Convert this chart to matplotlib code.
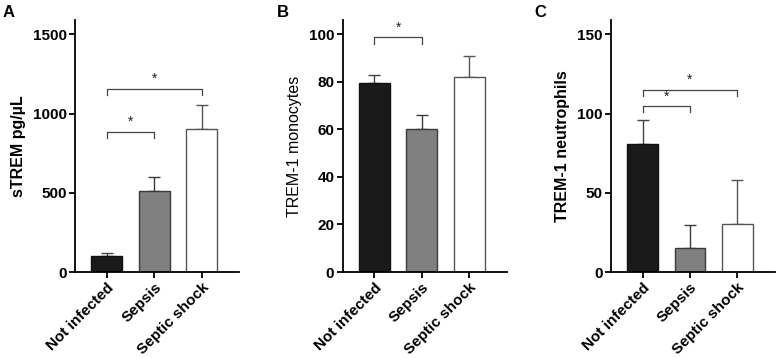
import matplotlib.pyplot as plt

plt.rcParams['font.family'] = ['Liberation Sans', 'DejaVu Sans']

groups = ['Not infected', 'Sepsis', 'Septic shock']
bar_colors = ['#1a1a1a', '#808080', '#ffffff']
edge_colors = ['#111111', '#3a3a3a', '#555555']

# panel A: soluble TREM-1
strem_mean = [100, 510, 905]
strem_err = [22, 90, 147]
# panel B: TREM-1 on monocytes
mono_mean = [79.3, 60.1, 81.9]
mono_err = [3.5, 6.0, 9.0]
# panel C: TREM-1 on neutrophils
neut_mean = [80.8, 14.9, 30.5]
neut_err = [15.3, 14.5, 27.8]

panels = [
    dict(letter='A', mean=strem_mean, err=strem_err, ylabel='sTREM pg/µL',
         ylim=1590, ticks=[0, 500, 1000, 1500], weight='bold',
         left=0.0965, right=0.3076, letter_x=0.003,
         brackets=[(0, 1, 884, 846, '*'), (0, 2, 1157, 1115, '*')]),
    dict(letter='B', mean=mono_mean, err=mono_err, ylabel='TREM-1 monocytes',
         ylim=105.9, ticks=[0, 20, 40, 60, 80, 100], weight='normal',
         left=0.441, right=0.652, letter_x=0.356,
         brackets=[(0, 1, 98.6, 95.8, '*')]),
    dict(letter='C', mean=neut_mean, err=neut_err, ylabel='TREM-1 neutrophils',
         ylim=159, ticks=[0, 50, 100, 150], weight='bold',
         left=0.786, right=0.9974, letter_x=0.688,
         brackets=[(0, 1, 104.5, 100.7, '*'), (0, 2, 115, 110.8, '*')]),
]

fig = plt.figure(figsize=(7.77, 3.58), dpi=100)
bottom, top = 0.2402, 0.944

for p in panels:
    ax = fig.add_axes([p['left'], bottom, p['right'] - p['left'], top - bottom])
    x = range(len(groups))
    for i in x:
        ax.bar(i, p['mean'][i], width=0.65, color=bar_colors[i],
               edgecolor=edge_colors[i], linewidth=1.0, zorder=2)
        ax.errorbar(i, p['mean'][i], yerr=[[0], [p['err'][i]]], fmt='none',
                    ecolor=edge_colors[i] if i != 0 else '#444444',
                    elinewidth=1.0, capsize=4, capthick=1.0, zorder=1)
    for a, b, yb, yt, s in p['brackets']:
        ax.plot([a, a, b, b], [yt, yb, yb, yt], color='#444444', lw=0.9,
                zorder=3, clip_on=False)
        ax.text((a + b) / 2, yb + (p['ylim'] * 0.012), s, ha='center',
                va='bottom', fontsize=10, color='#222222')
    ax.set_xlim(-0.67, 2.79)
    ax.set_ylim(0, p['ylim'])
    ax.set_yticks(p['ticks'])
    ax.set_xticks(list(x))
    ax.set_xticklabels(groups, rotation=45, ha='right', rotation_mode='anchor',
                       fontsize=11, fontweight='bold')
    for lab in ax.get_yticklabels():
        lab.set_fontsize(11)
        lab.set_fontweight('bold')
    ax.spines['top'].set_visible(False)
    ax.spines['right'].set_visible(False)
    ax.spines['left'].set_linewidth(1.3)
    ax.spines['bottom'].set_linewidth(1.3)
    ax.tick_params(axis='both', direction='out', length=4, width=1.3, pad=2)
    ax.set_ylabel(p['ylabel'], fontsize=11.5, fontweight=p['weight'], labelpad=5)
    fig.text(p['letter_x'], 0.985, p['letter'], fontsize=12,
             fontweight='bold', ha='left', va='top')

fig.savefig('out.png', dpi=100)
